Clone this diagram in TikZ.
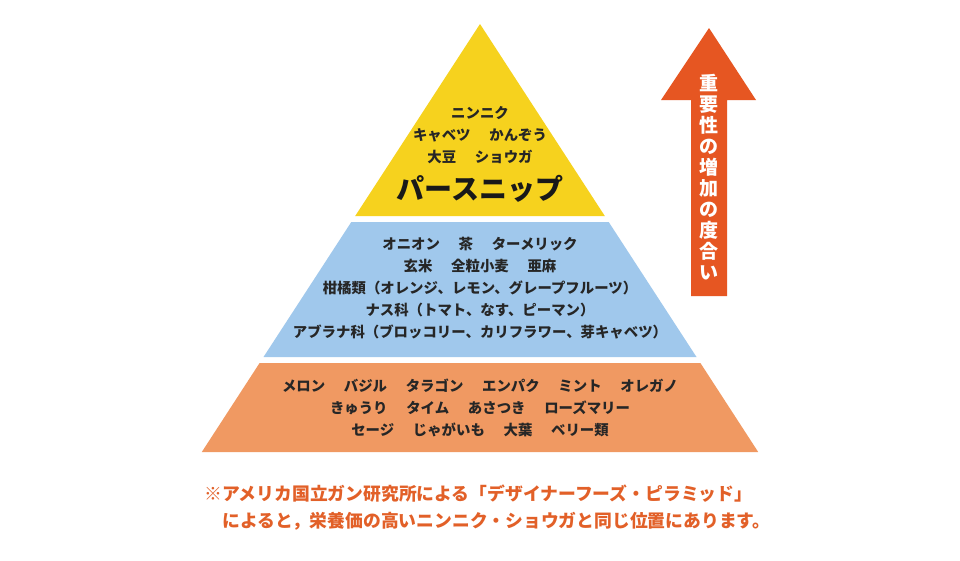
\documentclass[tikz,border=0pt]{standalone}
\usepackage{fontspec}
\newfontfamily\jp{Noto Sans CJK JP}
\usetikzlibrary{positioning}
\definecolor{tieryellow}{RGB}{246,210,30}
\definecolor{tierblue}{RGB}{160,200,236}
\definecolor{tierorange}{RGB}{240,153,98}
\definecolor{arroworange}{RGB}{230,86,34}
\definecolor{notered}{RGB}{226,96,40}
\newcommand{\gap}{\hspace{1.3em}}

\begin{document}
\begin{tikzpicture}[x=1pt, y=-1pt,
        foodtext/.style={align=center, inner sep=0pt, text=black!85,
                         font=\jp\bfseries\fontsize{14.4}{22}\selectfont},
        toptext/.style={inner sep=0pt, text=black!90,
                        font=\jp\bfseries\fontsize{28}{30}\selectfont},
        arrowtext/.style={align=center, inner sep=0pt, text=white,
                          font=\jp\bfseries\fontsize{19}{21}\selectfont},
        notetext/.style={anchor=west, inner sep=0pt, text=notered,
                         font=\jp\bfseries\fontsize{17.8}{20}\selectfont}
    ]
    \useasboundingbox[fill=white] (0,0) rectangle (960,560);

    % ---- Pyramide (3 Stufen) ----
    \fill[tieryellow] (480,24) -- (604.8,216) -- (355.2,216) -- cycle;
    \fill[tierblue] (351.3,222) -- (608.7,222) -- (696.5,357) -- (263.5,357) -- cycle;
    \fill[tierorange] (259.6,363) -- (700.4,363) -- (758.2,452) -- (201.8,452) -- cycle;

    % ---- Oben ----
    \node[foodtext] (top) at (480,135) {ニンニク\\キャベツ\gap かんぞう\\大豆\gap ショウガ};
    \node[toptext, below=11pt of top] (parsnip) {パースニップ};

    % ---- Mitte ----
    \node[foodtext] (mid) at (480,288) {オニオン\gap 茶\gap ターメリック\\玄米\gap 全粒小麦\gap 亜麻\\柑橘類（オレンジ、レモン、グレープフルーツ）\\ナス科（トマト、なす、ピーマン）\\アブラナ科（ブロッコリー、カリフラワー、芽キャベツ）};

    % ---- Unten ----
    \node[foodtext] (low) at (480,408) {メロン\gap バジル\gap タラゴン\gap エンパク\gap ミント\gap オレガノ\\きゅうり\gap タイム\gap あさつき\gap ローズマリー\\セージ\gap じゃがいも\gap 大葉\gap ベリー類};

    % ---- Pfeil ----
    \fill[arroworange] (709,28) -- (756,100) -- (727,100) -- (727,296)
        -- (691,296) -- (691,100) -- (661,100) -- cycle;
    \node[arrowtext] (imp) at (709,177) {重\\要\\性\\の\\増\\加\\の\\度\\合\\い};

    % ---- Anmerkung ----
    \node[notetext] (note1) at (204,494) {※アメリカ国立ガン研究所による「デザイナーフーズ・ピラミッド」};
    \node[notetext] (note2) at (222,521) {によると，栄養価の高いニンニク・ショウガと同じ位置にあります。};
\end{tikzpicture}
\end{document}
